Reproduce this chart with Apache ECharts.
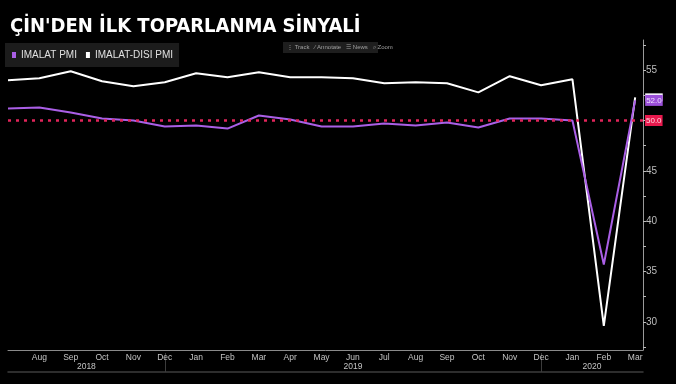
<!DOCTYPE html>
<html>
<head>
<meta charset="utf-8">
<script src="https://cdn.jsdelivr.net/npm/echarts@6/dist/echarts.min.js"></script>
<style>
html,body{margin:0;padding:0;background:#000;}
#c{width:676px;height:384px;}
</style>
</head>
<body>
<div id="c"></div>
<script>
// ---- data ----
const months = ["Jul","Aug","Sep","Oct","Nov","Dec","Jan","Feb","Mar","Apr","May","Jun","Jul","Aug","Sep","Oct","Nov","Dec","Jan","Feb","Mar"];
const years = ["2018","2019","2020"];
const imalatPMI = [51.2,51.3,50.8,50.2,50.0,49.4,49.5,49.2,50.5,50.1,49.4,49.4,49.7,49.5,49.8,49.3,50.2,50.2,50.0,35.7,52.0];
const imalatDisiPMI = [54.0,54.2,54.9,53.9,53.4,53.8,54.7,54.3,54.8,54.3,54.3,54.2,53.7,53.8,53.7,52.8,54.4,53.5,54.1,29.6,52.3];
const yTickLabels = [30,35,40,45,50,55];
const yMinorTicks = [27.5,30,32.5,35,37.5,40,42.5,45,47.5,50,52.5,55,57.5];
const refLevel = 50;

const X_MAX = 20.25;
const FONT_N = '"Liberation Sans",Arial,sans-serif';

const toPairs = arr => arr.map((v,i)=>[i,v]);
const monthIdx = months.map((m,i)=>i).filter(i=>i>0);
// year separators at Dec ticks (Bloomberg style)
const sep = months.map((m,i)=>m==="Dec"?i:-1).filter(i=>i>=0);
const bounds = [0].concat(sep).concat([X_MAX]);
const yearCenters = years.map((y,k)=>(bounds[k]+bounds[k+1])/2);

const chart = echarts.init(document.getElementById('c'), null, {renderer:'canvas'});
chart.setOption({
  backgroundColor:'#000',
  animation:false,
  title:{
    text:"ÇİN'DEN İLK TOPARLANMA SİNYALİ",
    left:5, top:12,
    textStyle:{color:'#fff',fontSize:20,fontWeight:'bold',fontFamily:'"DejaVu Sans Condensed","DejaVu Sans",sans-serif'}
  },
  legend:{
    data:['IMALAT PMI','IMALAT-DISI PMI'],
    left:5, top:43,
    backgroundColor:'#1c1c1c',
    padding:[7,6,7,7],
    icon:'rect', itemWidth:4, itemHeight:6, itemGap:9,
    textStyle:{color:'#e0e0e0',fontSize:10,fontFamily:FONT_N,padding:[1,0,0,0]}
  },
  graphic:[
    {type:'rect',left:283,top:42,shape:{width:95,height:11},style:{fill:'#1e1e1e'}},
    {type:'text',left:287,top:44,style:{text:'⋮ Track   ⁄ Annotate   ☰ News   ⌕ Zoom',fill:'#a0a0a0',fontSize:6,fontFamily:FONT_N}}
  ],
  grid:{left:8,right:33,top:40,bottom:34,containLabel:false,outerBoundsMode:'none'},
  xAxis:[
    {type:'value',min:0,max:X_MAX,position:'bottom',
     axisLine:{show:true,onZero:false,lineStyle:{color:'#8a8a8a',width:1}},
     axisTick:{show:false},
     splitLine:{show:false},
     axisLabel:{customValues:monthIdx,formatter:v=>months[Math.round(v)],color:'#c4c4c4',fontSize:8.5,margin:3,fontFamily:FONT_N}
    },
    {type:'value',min:0,max:X_MAX,position:'bottom',offset:9,
     axisLine:{show:false,onZero:false},axisTick:{show:false},splitLine:{show:false},
     axisLabel:{customValues:yearCenters,formatter:v=>{const k=yearCenters.findIndex(c=>Math.abs(c-v)<1e-6);return k>=0?years[k]:'';},color:'#c4c4c4',fontSize:8.5,margin:3,fontFamily:FONT_N}
    },
    {type:'value',min:0,max:X_MAX,position:'bottom',offset:22,
     axisLine:{show:true,onZero:false,lineStyle:{color:'#3c3c3c',width:1.5}},
     axisTick:{show:true,customValues:sep,inside:true,length:19,lineStyle:{color:'#3c3c3c',width:1}},
     axisLabel:{show:false},splitLine:{show:false}
    }
  ],
  yAxis:{
    type:'value',position:'right',min:27.2,max:58,
    axisLine:{show:true,onZero:false,lineStyle:{color:'#9a9a9a',width:1}},
    axisTick:{show:true,customValues:yMinorTicks,length:3,lineStyle:{color:'#bbbbbb'}},
    splitLine:{show:false},
    axisLabel:{customValues:yTickLabels,color:'#bdbdbd',fontSize:10,margin:3,fontFamily:FONT_N}
  },
  series:[
    {
      name:'IMALAT-DISI PMI',type:'line',data:toPairs(imalatDisiPMI),
      symbol:'none',z:2,
      lineStyle:{color:'#ffffff',width:2},itemStyle:{color:'#ffffff'},
      endLabel:{show:true,distance:10,formatter:p=>p.value[1].toFixed(1),backgroundColor:'#ffffff',color:'#000',fontSize:8,padding:[0,1,0,1],fontFamily:FONT_N}
    },
    {
      name:'IMALAT PMI',type:'line',data:toPairs(imalatPMI),
      symbol:'none',z:3,
      lineStyle:{color:'#aa5fe6',width:2},itemStyle:{color:'#aa5fe6'},
      endLabel:{show:true,distance:10,formatter:p=>p.value[1].toFixed(1),backgroundColor:'#9b4fd9',color:'#efe2ff',fontSize:8,padding:[2,1,1,1],fontFamily:FONT_N},
      markLine:{
        silent:true,symbol:'none',
        data:[{yAxis:refLevel}],
        lineStyle:{type:[3,5],width:2.5,color:'#e0245a'},
        label:{show:true,position:'end',formatter:()=>refLevel.toFixed(1),backgroundColor:'#e8194d',color:'#ffd6de',fontSize:8,padding:[2,1,1,1],distance:2,fontFamily:FONT_N}
      }
    }
  ]
});
</script>
</body>
</html>
